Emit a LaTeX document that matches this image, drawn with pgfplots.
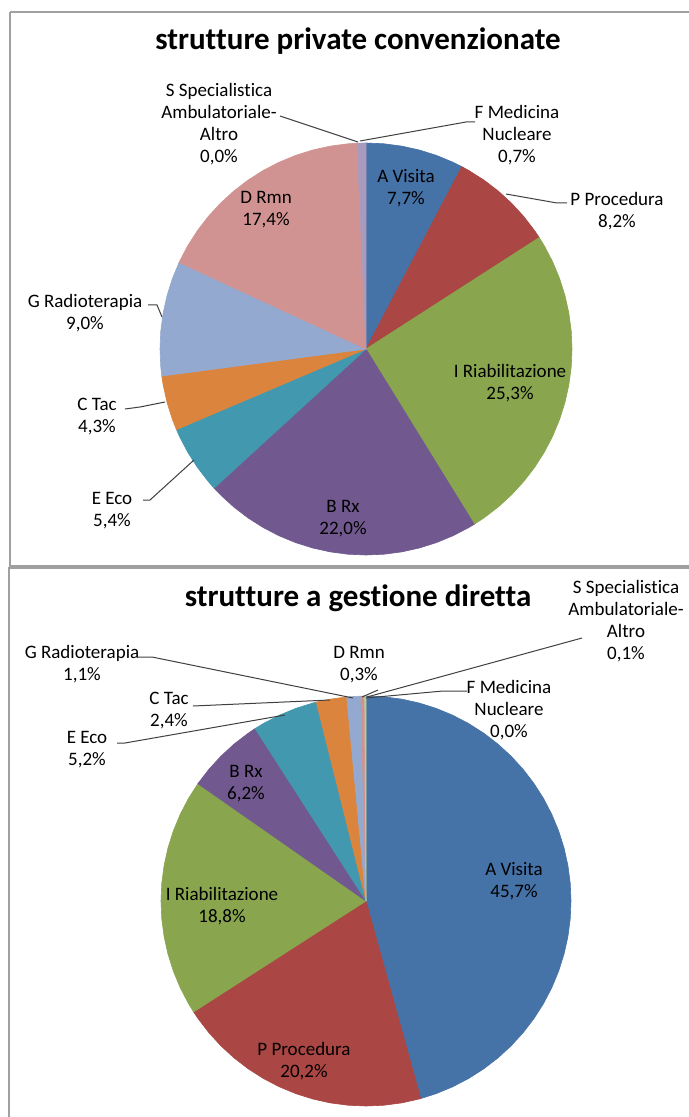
\documentclass[border=0pt]{standalone}
\usepackage{pgfplots}
\pgfplotsset{compat=1.18}
\usepgfplotslibrary{polar}
\usepackage{fontspec}
\setmainfont{Carlito}[Ligatures={NoCommon}]
\definecolor{cA}{HTML}{4572A7}
\definecolor{cP}{HTML}{AA4643}
\definecolor{cI}{HTML}{89A54E}
\definecolor{cB}{HTML}{71588F}
\definecolor{cE}{HTML}{4198AF}
\definecolor{cC}{HTML}{DB843D}
\definecolor{cG}{HTML}{93A9CF}
\definecolor{cD}{HTML}{D19392}
\definecolor{cS}{HTML}{B9CD96}
\definecolor{cF}{HTML}{A99BBD}
\definecolor{frame}{HTML}{A0A0A0}
\pgfplotsset{pie/.style={scale only axis,xmin=-1,xmax=1,ymin=-1,ymax=1,hide axis,clip=false,anchor=center,data cs=polar,
  every axis plot/.append style={line width=0.3pt,no marks}}}
\begin{document}
\begin{tikzpicture}
\begin{scope}[x=0.5pt,y=-0.5pt]
\useasboundingbox (0,0) rectangle (689,1117);
\fill[white] (0,0) rectangle (689,1117);
\end{scope}
\begin{pgfinterruptboundingbox}
% ---------- top pie: strutture private convenzionate ----------
% A 7.7, P 8.2, I 25.3, B 22.0, E 5.4, C 4.3, G 9.0, D 17.4, S 0.0, F 0.7
\begin{axis}[pie,width=206pt,height=206pt,at={(183pt,-174.5pt)}]
\addplot[fill=cA,draw=cA] coordinates {(0,0) (90,1) (85,1) (80,1) (75,1) (70,1) (65,1) (62.28,1)} -- cycle;
\addplot[fill=cP,draw=cP] coordinates {(0,0) (62.28,1) (60,1) (55,1) (50,1) (45,1) (40,1) (35,1) (32.76,1)} -- cycle;
\addplot[fill=cI,draw=cI] coordinates {(0,0) (32.76,1) (30,1) (25,1) (20,1) (15,1) (10,1) (5,1) (0,1) (-5,1) (-10,1) (-15,1) (-20,1) (-25,1) (-30,1) (-35,1) (-40,1) (-45,1) (-50,1) (-55,1) (-58.32,1)} -- cycle;
\addplot[fill=cB,draw=cB] coordinates {(0,0) (-58.32,1) (-60,1) (-65,1) (-70,1) (-75,1) (-80,1) (-85,1) (-90,1) (-95,1) (-100,1) (-105,1) (-110,1) (-115,1) (-120,1) (-125,1) (-130,1) (-135,1) (-137.52,1)} -- cycle;
\addplot[fill=cE,draw=cE] coordinates {(0,0) (-137.52,1) (-140,1) (-145,1) (-150,1) (-155,1) (-156.96,1)} -- cycle;
\addplot[fill=cC,draw=cC] coordinates {(0,0) (-156.96,1) (-160,1) (-165,1) (-170,1) (-172.44,1)} -- cycle;
\addplot[fill=cG,draw=cG] coordinates {(0,0) (-172.44,1) (-175,1) (-180,1) (-185,1) (-190,1) (-195,1) (-200,1) (-204.84,1)} -- cycle;
\addplot[fill=cD,draw=cD] coordinates {(0,0) (-204.84,1) (-205,1) (-210,1) (-215,1) (-220,1) (-225,1) (-230,1) (-235,1) (-240,1) (-245,1) (-250,1) (-255,1) (-260,1) (-265,1) (-267.48,1)} -- cycle;
\addplot[fill=cF,draw=cF] coordinates {(0,0) (-267.48,1) (-268.7,1) (-270,1)} -- cycle;
\end{axis}
% ---------- bottom pie: strutture a gestione diretta ----------
% A 45.7, P 20.2, I 18.8, B 6.2, E 5.2, C 2.4, G 1.1, D 0.3, S 0.1, F 0.0
\begin{axis}[pie,width=205pt,height=205pt,at={(183pt,-450.5pt)}]
\addplot[fill=cA,draw=cA] coordinates {(0,0) (90,1) (85,1) (80,1) (75,1) (70,1) (65,1) (60,1) (55,1) (50,1) (45,1) (40,1) (35,1) (30,1) (25,1) (20,1) (15,1) (10,1) (5,1) (0,1) (-5,1) (-10,1) (-15,1) (-20,1) (-25,1) (-30,1) (-35,1) (-40,1) (-45,1) (-50,1) (-55,1) (-60,1) (-65,1) (-70,1) (-74.52,1)} -- cycle;
\addplot[fill=cP,draw=cP] coordinates {(0,0) (-74.52,1) (-75,1) (-80,1) (-85,1) (-90,1) (-95,1) (-100,1) (-105,1) (-110,1) (-115,1) (-120,1) (-125,1) (-130,1) (-135,1) (-140,1) (-145,1) (-147.24,1)} -- cycle;
\addplot[fill=cI,draw=cI] coordinates {(0,0) (-147.24,1) (-150,1) (-155,1) (-160,1) (-165,1) (-170,1) (-175,1) (-180,1) (-185,1) (-190,1) (-195,1) (-200,1) (-205,1) (-210,1) (-214.92,1)} -- cycle;
\addplot[fill=cB,draw=cB] coordinates {(0,0) (-214.92,1) (-215,1) (-220,1) (-225,1) (-230,1) (-235,1) (-237.24,1)} -- cycle;
\addplot[fill=cE,draw=cE] coordinates {(0,0) (-237.24,1) (-240,1) (-245,1) (-250,1) (-255,1) (-255.96,1)} -- cycle;
\addplot[fill=cC,draw=cC] coordinates {(0,0) (-255.96,1) (-260,1) (-264.6,1)} -- cycle;
\addplot[fill=cG,draw=cG] coordinates {(0,0) (-264.6,1) (-268.56,1)} -- cycle;
\addplot[fill=cD,draw=cD] coordinates {(0,0) (-268.56,1) (-269.64,1)} -- cycle;
\addplot[fill=cS,draw=cS] coordinates {(0,0) (-269.64,1) (-270,1)} -- cycle;
\end{axis}
\begin{scope}[x=0.5pt,y=-0.5pt]
\draw[frame,line width=1.1pt] (10,12) -- (10,566) -- (720,566);
\draw[frame,line width=1.1pt] (10,12) -- (720,12);
\draw[frame,line width=1.1pt] (720,1140) -- (9,1140) -- (9,568) -- (720,568);
\tikzset{lab/.style={align=center,font=\fontsize{9.5}{11}\selectfont,inner sep=0pt},
  ld/.style={black!75,line width=0.5pt}}
\node[font=\bfseries\fontsize{15.5}{18}\selectfont,inner sep=0pt] at (358,41) {strutture private convenzionate};
\node[font=\bfseries\fontsize{15.5}{18}\selectfont,inner sep=0pt] at (358,598) {strutture a gestione diretta};
% top labels
\node[lab] at (406,188) {A Visita\\7,7\%};
\node[lab] at (617,211) {P Procedura\\8,2\%};
\node[lab] at (510,383) {I Riabilitazione\\25,3\%};
\node[lab] at (343,519) {B Rx\\22,0\%};
\node[lab] at (112,511) {E Eco\\5,4\%};
\node[lab] at (97,417) {C Tac\\4,3\%};
\node[lab] at (85,313) {G Radioterapia\\9,0\%};
\node[lab] at (266,210) {D Rmn\\17,4\%};
\node[lab] at (219,124.5) {S Specialistica\\Ambulatoriale-\\Altro\\0,0\%};
\node[lab] at (517,135.5) {F Medicina\\Nucleare\\0,7\%};
\draw[ld] (280,116) -- (358,142);
\draw[ld] (360,141) -- (466,122) -- (475,122);
\draw[ld] (567,203) -- (557,203) -- (506,194);
\draw[ld] (148,305) -- (157,305) -- (162,317);
\draw[ld] (125,409) -- (140,407) -- (165,402);
\draw[ld] (143,500) -- (150,500) -- (194,460);
% bottom labels
\node[lab] at (514,881) {A Visita\\45,7\%};
\node[lab] at (304,1061) {P Procedura\\20,2\%};
\node[lab] at (222,906) {I Riabilitazione\\18,8\%};
\node[lab] at (246,784) {B Rx\\6,2\%};
\node[lab] at (87,750) {E Eco\\5,2\%};
\node[lab] at (169,711) {C Tac\\2,4\%};
\node[lab] at (82,664) {G Radioterapia\\1,1\%};
\node[lab] at (359,665) {D Rmn\\0,3\%};
\node[lab] at (509,710) {F Medicina\\Nucleare\\0,0\%};
\node[lab] at (626,621.5) {S Specialistica\\Ambulatoriale-\\Altro\\0,1\%};
\draw[ld] (137,657) -- (152,657) -- (353,698);
\draw[ld] (193,706) -- (330,700);
\draw[ld] (117,743) -- (125,743) -- (285,715);
\draw[ld] (378,690) -- (362,697);
\draw[ld] (366,698) -- (443,691) -- (467,691);
\draw[ld] (582,638) -- (367,697);
\end{scope}
\end{pgfinterruptboundingbox}
\end{tikzpicture}
\end{document}
